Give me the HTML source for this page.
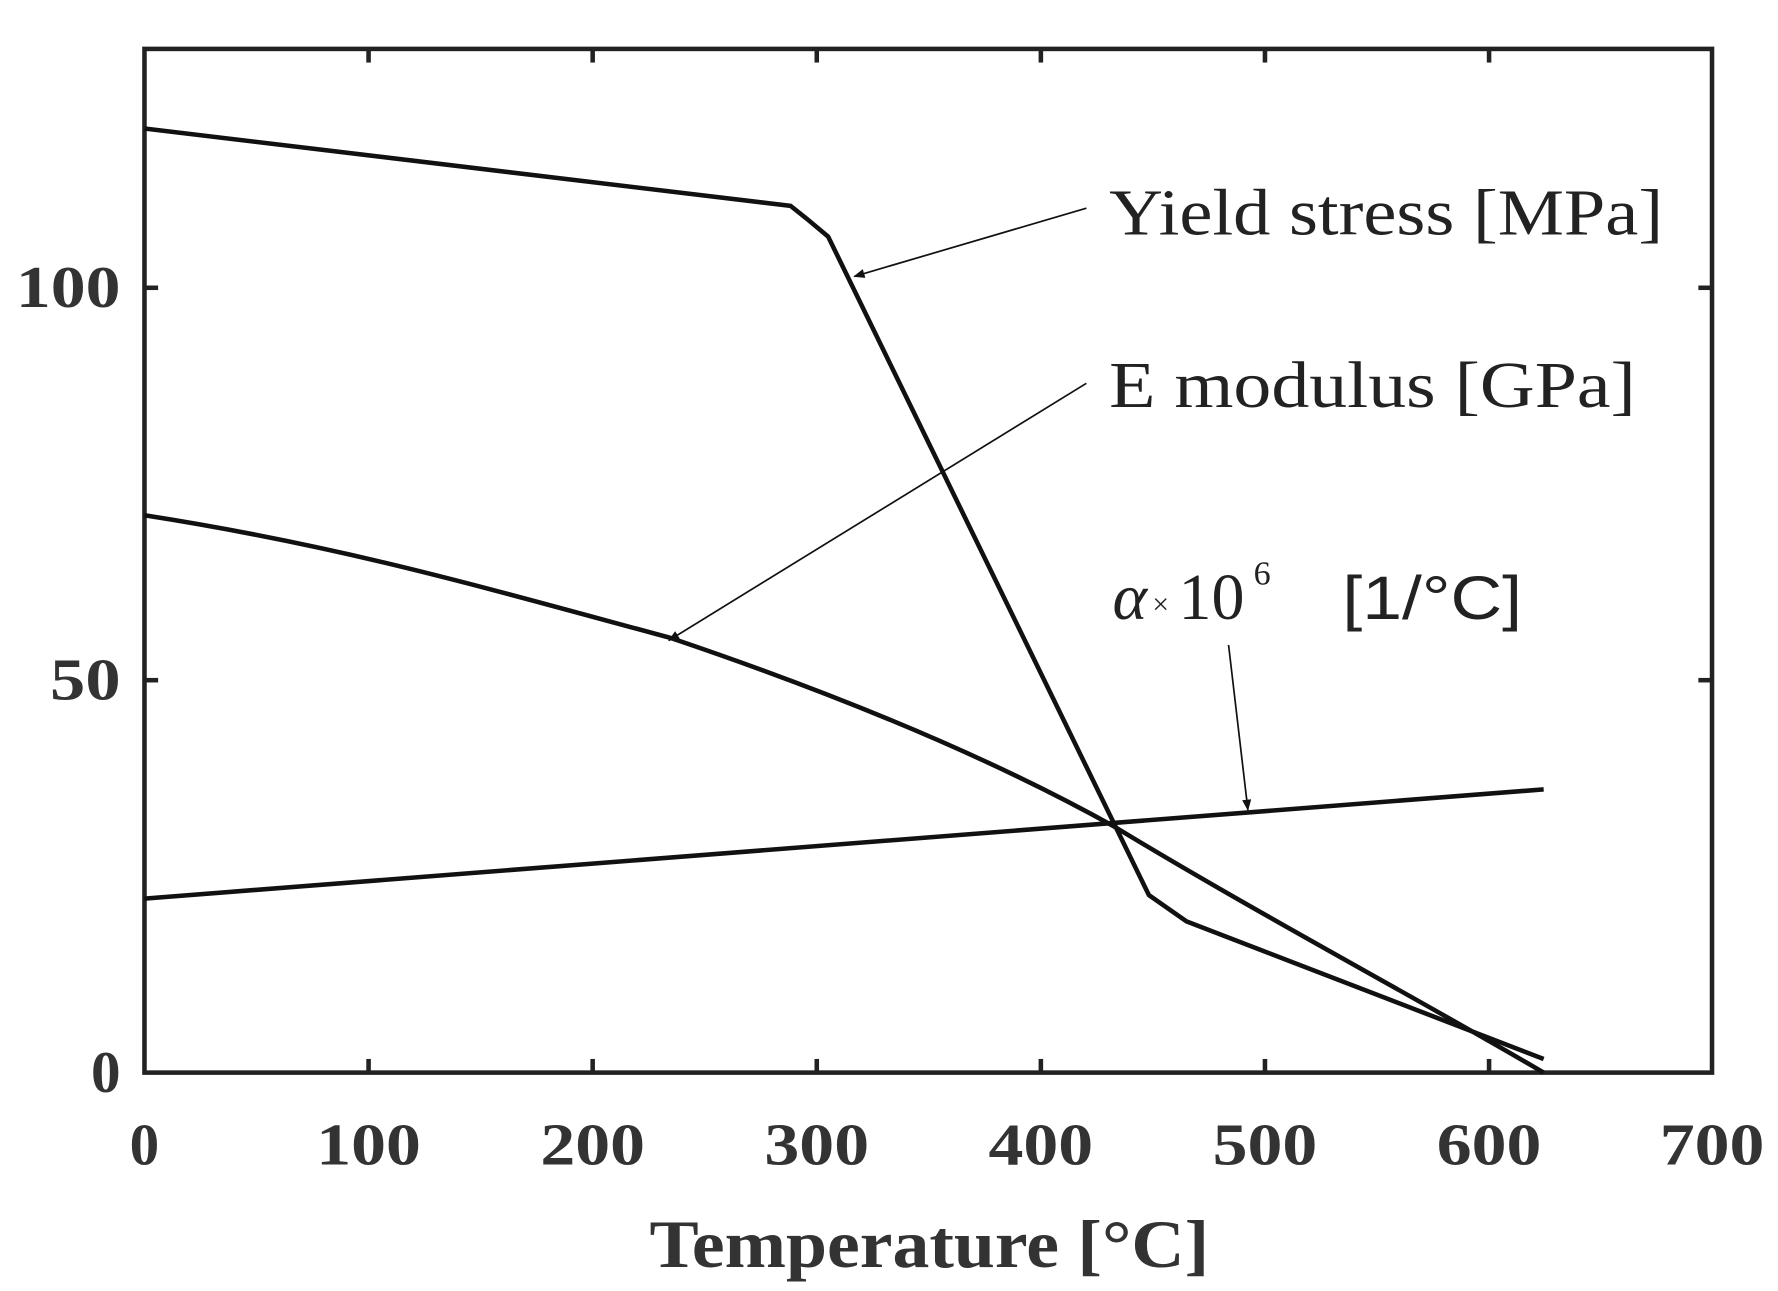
<!DOCTYPE html>
<html><head><style>html,body{margin:0;padding:0;background:#fff;}svg{display:block;}</style></head>
<body>
<svg width="1778" height="1291" viewBox="0 0 1563 1135" preserveAspectRatio="none" xmlns="http://www.w3.org/2000/svg">
<defs><marker id="ah" markerWidth="10" markerHeight="8" refX="9" refY="4" orient="auto" markerUnits="userSpaceOnUse"><path d="M0,0 L10,4 L0,8 z" fill="#111"/></marker></defs>
<g stroke="#222" stroke-width="4" fill="none">
<rect x="127" y="43" width="1378" height="900"/>
</g>
<g stroke="#222" stroke-width="4">
<line x1="324" y1="943" x2="324" y2="931"/><line x1="521" y1="943" x2="521" y2="931"/><line x1="718" y1="943" x2="718" y2="931"/><line x1="915" y1="943" x2="915" y2="931"/><line x1="1112" y1="943" x2="1112" y2="931"/><line x1="1309" y1="943" x2="1309" y2="931"/>
<line x1="324" y1="43" x2="324" y2="55"/><line x1="521" y1="43" x2="521" y2="55"/><line x1="718" y1="43" x2="718" y2="55"/><line x1="915" y1="43" x2="915" y2="55"/><line x1="1112" y1="43" x2="1112" y2="55"/><line x1="1309" y1="43" x2="1309" y2="55"/>
<line x1="127" y1="598" x2="139" y2="598"/><line x1="127" y1="253" x2="139" y2="253"/>
<line x1="1505" y1="598" x2="1493" y2="598"/><line x1="1505" y1="253" x2="1493" y2="253"/>
</g>
<g fill="none" stroke="#111" stroke-width="4" stroke-linejoin="round">
<polyline points="127,113 695,181 710,193 728,208 1010,787 1043,810 1357,931"/>
<path d="M127,453 C300,480 420,515 590,561 C720,605 860,660 980,727 C1100,800 1250,880 1357,943"/>
<line x1="127" y1="790" x2="1357" y2="694"/>
</g>
<g stroke="#111" stroke-width="1.5">
<line x1="955" y1="183" x2="751" y2="243" marker-end="url(#ah)"/>
<line x1="955" y1="337" x2="588" y2="563" marker-end="url(#ah)"/>
<line x1="1080" y1="567" x2="1097" y2="712" marker-end="url(#ah)"/>
</g>
<g font-family="Liberation Serif, serif" fill="#222" font-size="58">
<text x="975" y="206" textLength="487" lengthAdjust="spacingAndGlyphs">Yield stress [MPa]</text>
<text x="975" y="358" textLength="463" lengthAdjust="spacingAndGlyphs">E modulus [GPa]</text>
<text x="978" y="544" font-style="italic">α</text>
<text x="1013" y="540" font-size="26">×</text>
<text x="1036" y="544">10</text>
<text x="1102" y="514" font-size="30">6</text>
<text x="1180" y="544" font-family="Liberation Sans, sans-serif" font-size="54" textLength="158" lengthAdjust="spacingAndGlyphs">[1/°C]</text>
</g>
<g font-family="Liberation Serif, serif" font-weight="bold" fill="#333" font-size="52">
<text x="106" y="270" text-anchor="end" textLength="92" lengthAdjust="spacingAndGlyphs">100</text>
<text x="106" y="615" text-anchor="end" textLength="62" lengthAdjust="spacingAndGlyphs">50</text>
<text x="106" y="960" text-anchor="end">0</text>
<g text-anchor="middle">
<text x="127" y="1024">0</text>
<text x="324" y="1024" textLength="92" lengthAdjust="spacingAndGlyphs">100</text>
<text x="521" y="1024" textLength="92" lengthAdjust="spacingAndGlyphs">200</text>
<text x="718" y="1024" textLength="92" lengthAdjust="spacingAndGlyphs">300</text>
<text x="915" y="1024" textLength="92" lengthAdjust="spacingAndGlyphs">400</text>
<text x="1112" y="1024" textLength="92" lengthAdjust="spacingAndGlyphs">500</text>
<text x="1309" y="1024" textLength="92" lengthAdjust="spacingAndGlyphs">600</text>
<text x="1505" y="1024" textLength="92" lengthAdjust="spacingAndGlyphs">700</text>
</g>
<text x="817" y="1114" text-anchor="middle" font-size="60" textLength="492" lengthAdjust="spacingAndGlyphs">Temperature [°C]</text>
</g>
</svg>
</body></html>
